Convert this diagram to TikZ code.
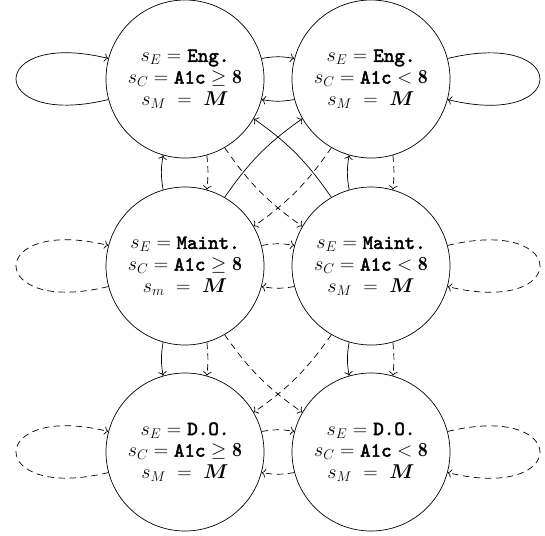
\RequirePackage{fix-cm}
\documentclass[tikz,border=0pt]{standalone}
\usepackage{amsmath}
\usepackage{fontspec}
\usetikzlibrary{arrows.meta}
\newfontfamily\codefont[FakeBold=2.4]{lmmono10-regular.otf}
\newcommand{\code}[1]{\text{\codefont #1}}
\begin{document}
\begin{tikzpicture}[x=1pt, y=1pt, line width=0.7pt, >={To[scale=1.3]},
  state/.style={draw, circle, minimum size=158pt, inner sep=0pt,
    align=center, font=\fontsize{20}{21.7}\selectfont},
  dsh/.style={dash pattern=on 6.5pt off 4.5pt},
  flow/.style={->},
  dflow/.style={->, dsh}]
\useasboundingbox (0,0) rectangle (545,-535);

% states: engaged, maintenance, drop-out
\node[state] (tl) at (185,-79)  {$s_E =$ \code{Eng.}\\ $s_C = \code{A1c} \geq \mathbf{8}$\\ $s_M \ = \ \boldsymbol{M}$};
\node[state] (tr) at (371,-79)  {$s_E =$ \code{Eng.}\\ $s_C = \code{A1c} < \mathbf{8}$\\ $s_M \ = \ \boldsymbol{M}$};
\node[state] (ml) at (185,-266) {$s_E = \code{Maint.}$\\ $s_C = \code{A1c} \geq \mathbf{8}$\\ $s_m \ = \ \boldsymbol{M}$};
\node[state] (mr) at (371,-266) {$s_E = \code{Maint.}$\\ $s_C = \code{A1c} < \mathbf{8}$\\ $s_M \ = \ \boldsymbol{M}$};
\node[state] (bl) at (185,-452) {$s_E =$ \code{D.O.}\\ $s_C = \code{A1c} \geq \mathbf{8}$\\ $s_M \ = \ \boldsymbol{M}$};
\node[state] (br) at (371,-452) {$s_E =$ \code{D.O.}\\ $s_C = \code{A1c} < \mathbf{8}$\\ $s_M \ = \ \boldsymbol{M}$};

% self loops
\draw[flow]  (tl.195) .. controls +(-123,-30) and +(-123,30) .. (tl.165);
\draw[flow]  (tr.15)  .. controls +(123,30) and +(123,-30) .. (tr.345);
\draw[dflow] (ml.195) .. controls +(-123,-30) and +(-123,30) .. (ml.165);
\draw[dflow] (mr.15)  .. controls +(123,30) and +(123,-30) .. (mr.345);
\draw[dflow] (bl.195) .. controls +(-123,-30) and +(-123,30) .. (bl.165);
\draw[dflow] (br.15)  .. controls +(123,30) and +(123,-30) .. (br.345);

% horizontal transitions
\draw[flow]  (tl.15)  to[bend left=10] (tr.165);
\draw[flow]  (tr.195) to[bend left=10] (tl.345);
\draw[dflow] (ml.15)  to[bend left=10] (mr.165);
\draw[dflow] (mr.195) to[bend left=10] (ml.345);
\draw[dflow] (bl.15)  to[bend left=10] (br.165);
\draw[dflow] (br.195) to[bend left=10] (bl.345);

% vertical transitions
\draw[flow]  (ml.106) to[bend left=10] (tl.254);
\draw[dflow] (tl.286) to[bend left=6] (ml.74);
\draw[flow]  (mr.106) to[bend left=10] (tr.254);
\draw[dflow] (tr.286) to[bend left=6] (mr.74);
\draw[flow]  (ml.254) to[bend right=10] (bl.106);
\draw[dflow] (ml.286) to[bend left=6] (bl.74);
\draw[flow]  (mr.254) to[bend right=10] (br.106);
\draw[dflow] (mr.286) to[bend left=6] (br.74);

% diagonal transitions
\draw[flow]  (ml.60)  to[bend left=10]  (tr.210);
\draw[flow]  (mr.120) to[bend right=10] (tl.330);
\draw[dflow] (tl.300) to[bend right=10] (mr.150);
\draw[dflow] (tr.240) to[bend left=10]  (ml.30);
\draw[dflow] (ml.300) to[bend right=10] (br.150);
\draw[dflow] (mr.240) to[bend left=10]  (bl.30);
\end{tikzpicture}
\end{document}
